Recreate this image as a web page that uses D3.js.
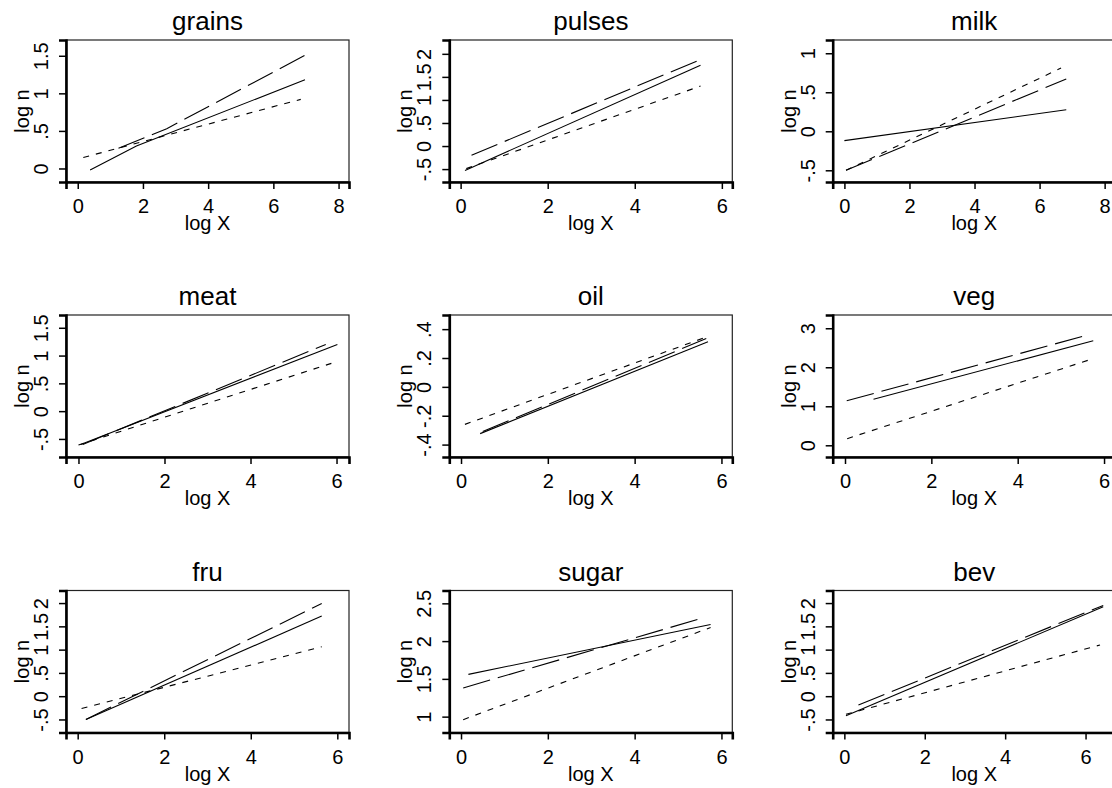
<!DOCTYPE html>
<html>
<head>
<meta charset="utf-8">
<script src="https://cdn.jsdelivr.net/npm/d3@7"></script>
<style>
  body { margin: 0; background: #fff; }
  svg { display: block; }
  text { font-family: "Liberation Sans", Arial, sans-serif; fill: #000; }
</style>
</head>
<body>
<div id="chart"></div>
<script>
//////////////////////////////////////////////////////////// DATA ////////////////////////////////////////////////////////////
var panelNames = ["grains", "pulses", "milk", "meat", "oil", "veg", "fru", "sugar", "bev"];

// axis ranges of each panel (log X, log n)
var xDomains = [[-0.36, 8.32], [-0.26, 6.24], [-0.36, 8.34], [-0.29, 6.29], [-0.27, 6.25],
                [-0.285, 6.27], [-0.27, 6.27], [-0.27, 6.25], [-0.29, 6.75]];
var yDomains = [[-0.18, 1.71], [-0.78, 2.30], [-0.65, 1.17], [-0.825, 1.73], [-0.486, 0.498],
                [-0.30, 3.34], [-0.78, 2.27], [0.79, 2.67], [-0.78, 2.27]];

var xTicks = [[0, 2, 4, 6, 8], [0, 2, 4, 6], [0, 2, 4, 6, 8], [0, 2, 4, 6], [0, 2, 4, 6],
              [0, 2, 4, 6], [0, 2, 4, 6], [0, 2, 4, 6], [0, 2, 4, 6]];
var yTicks = [[0, 0.5, 1, 1.5], [-0.5, 0, 0.5, 1, 1.5, 2], [-0.5, 0, 0.5, 1], [-0.5, 0, 0.5, 1, 1.5],
              [-0.4, -0.2, 0, 0.2, 0.4], [0, 1, 2, 3], [-0.5, 0, 0.5, 1, 1.5, 2], [1, 1.5, 2, 2.5],
              [-0.5, 0, 0.5, 1, 1.5, 2]];
var yTickLabels = [["0", ".5", "1", "1.5"], ["-.5", "0", ".5", "1", "1.5", "2"], ["-.5", "0", ".5", "1"],
                   ["-.5", "0", ".5", "1", "1.5"], ["-.4", "-.2", "0", ".2", ".4"], ["0", "1", "2", "3"],
                   ["-.5", "0", ".5", "1", "1.5", "2"], ["1", "1.5", "2", "2.5"], ["-.5", "0", ".5", "1", "1.5", "2"]];

// fitted lines, [log X, log n] points
var solidLines = [
  [[0.38, -0.02], [1.80, 0.30], [6.97, 1.18]],
  [[0.10, -0.53], [5.51, 1.75]],
  [[0.00, -0.12], [6.82, 0.275]],
  [[0.05, -0.60], [6.02, 1.20]],
  [[0.44, -0.324], [5.69, 0.3125]],
  [[0.66, 1.18], [5.75, 2.68]],
  [[0.19, -0.50], [5.64, 1.72]],
  [[0.17, 1.56], [5.75, 2.22]],
  [[0.04, -0.42], [6.44, 1.92]]
];
var longDashLines = [
  [[1.25, 0.27], [2.73, 0.53], [6.97, 1.507]],
  [[0.25, -0.20], [5.47, 1.86]],
  [[0.05, -0.50], [6.82, 0.67]],
  [[0.10, -0.60], [5.75, 1.20]],
  [[0.50, -0.31], [5.65, 0.335]],
  [[0.04, 1.14], [5.63, 2.83]],
  [[0.19, -0.50], [5.64, 1.99]],
  [[0.05, 1.38], [5.59, 2.31]],
  [[0.35, -0.19], [6.44, 1.95]]
];
var shortDashLines = [
  [[0.17, 0.146], [6.84, 0.92]],
  [[0.13, -0.49], [5.51, 1.30]],
  [[0.05, -0.50], [6.66, 0.81]],
  [[0.00, -0.61], [5.88, 0.86]],
  [[0.09, -0.26], [5.67, 0.347]],
  [[0.05, 0.17], [5.63, 2.18]],
  [[0.09, -0.265], [5.64, 1.06]],
  [[0.05, 0.96], [5.75, 2.18]],
  [[0.04, -0.39], [6.36, 1.10]]
];

//////////////////////////////////////////////////////////// LAYOUT ////////////////////////////////////////////////////////////
var w = 1112, h = 788;
var colLeft = [66, 449.3, 832.7];
var rowTop = [40, 315, 590.5];
var boxW = 283, boxH = 142;

var svg = d3.select("#chart")
  .append("svg")
  .attr("width", w)
  .attr("height", h);

svg.append("rect").attr("width", w).attr("height", h).attr("fill", "#fff");

var lineStyles = [
  {lines: solidLines, dash: null},
  {lines: longDashLines, dash: "28,8"},
  {lines: shortDashLines, dash: "6,7"}
];

panelNames.forEach(function(name, i) {
  var col = i % 3, row = Math.floor(i / 3);
  var g = svg.append("g")
    .attr("transform", "translate(" + colLeft[col] + "," + rowTop[row] + ")");

  var x = d3.scaleLinear().domain(xDomains[i]).range([0, boxW]);
  var y = d3.scaleLinear().domain(yDomains[i]).range([boxH, 0]);

  // plot box
  g.append("rect")
    .attr("width", boxW)
    .attr("height", boxH)
    .attr("fill", "none")
    .attr("stroke", "#222")
    .attr("stroke-width", 1.2);

  // title
  g.append("text")
    .attr("x", boxW / 2)
    .attr("y", -10)
    .attr("text-anchor", "middle")
    .attr("font-size", "26px")
    .text(name);

  // x axis
  var xAxis = g.append("g")
    .attr("transform", "translate(0," + boxH + ")")
    .call(d3.axisBottom(x).tickValues(xTicks[i]).tickSizeOuter(0).tickSize(7).tickFormat(d3.format("d")));
  xAxis.select(".domain").attr("stroke", "#000").attr("stroke-width", 2.6);
  xAxis.selectAll(".tick line").attr("stroke", "#000").attr("stroke-width", 1.5);
  xAxis.selectAll(".tick text")
    .attr("y", 31).attr("dy", null)
    .attr("font-size", "20px").attr("font-family", null).attr("fill", "#000");

  // y axis, labels turned on their side
  var yAxis = g.append("g")
    .call(d3.axisLeft(y).tickValues(yTicks[i]).tickSizeOuter(0).tickSize(7)
      .tickFormat(function(d, k) { return yTickLabels[i][k]; }));
  yAxis.select(".domain").attr("stroke", "#000").attr("stroke-width", 2.6);
  yAxis.selectAll(".tick line").attr("stroke", "#000").attr("stroke-width", 1.5);
  yAxis.selectAll(".tick text")
    .attr("x", null).attr("dy", null)
    .attr("transform", "translate(-18,0) rotate(-90)")
    .attr("text-anchor", "middle")
    .attr("font-size", "20px").attr("font-family", null).attr("fill", "#000");
  xAxis.attr("font-family", null);
  yAxis.attr("font-family", null);

  // axis titles
  g.append("text")
    .attr("x", boxW / 2)
    .attr("y", boxH + 48)
    .attr("text-anchor", "middle")
    .attr("font-size", "20px")
    .text("log X");
  g.append("text")
    .attr("transform", "translate(-37," + (boxH / 2) + ") rotate(-90)")
    .attr("text-anchor", "middle")
    .attr("font-size", "20px")
    .text("log n");

  // the three fitted lines
  var line = d3.line()
    .x(function(d) { return x(d[0]); })
    .y(function(d) { return y(d[1]); });

  lineStyles.forEach(function(s) {
    g.append("path")
      .datum(s.lines[i])
      .attr("d", line)
      .attr("fill", "none")
      .attr("stroke", "#000")
      .attr("stroke-width", 1.1)
      .attr("stroke-dasharray", s.dash);
  });
});
</script>
</body>
</html>
